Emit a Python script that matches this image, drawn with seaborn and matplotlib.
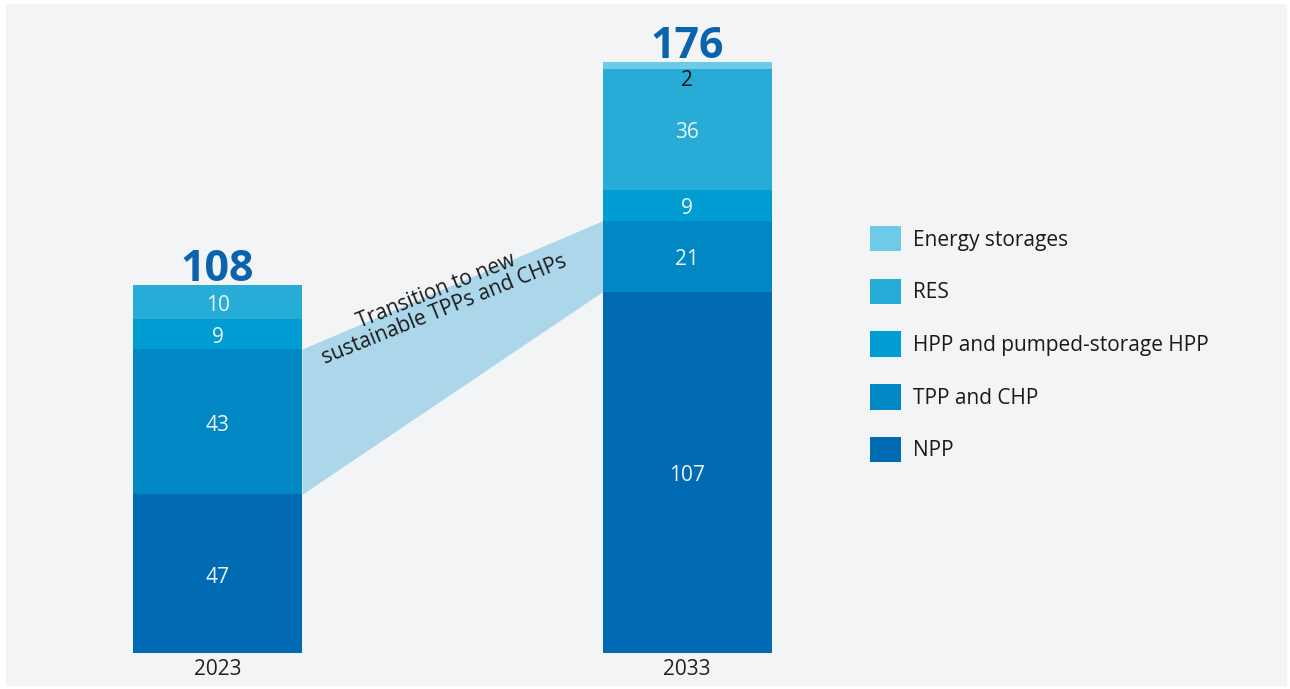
import matplotlib
matplotlib.use("Agg")
import matplotlib.pyplot as plt
from matplotlib.patches import Rectangle, Patch
import numpy as np
import pandas as pd
import seaborn as sns

# Installed capacity by source, GW
years = ["2023", "2033"]
sources = ["NPP", "TPP and CHP", "HPP and pumped-storage HPP", "RES", "Energy storages"]
npp = [47, 107]
tpp_chp = [43, 21]
hpp = [9, 9]
res = [10, 36]
storages = [0, 2]
totals = [108, 176]

colors = {
    "NPP": "#006bb2",
    "TPP and CHP": "#0087c4",
    "HPP and pumped-storage HPP": "#009dd3",
    "RES": "#26acd7",
    "Energy storages": "#6dcbe8",
}

sns.set_theme(style="white")
plt.rcParams["font.family"] = ["Open Sans", "DejaVu Sans"]

values = np.array([npp, tpp_chp, hpp, res, storages], dtype=float)
cum = np.cumsum(values, axis=0)

fig = plt.figure(figsize=(12.9, 6.89), dpi=100, facecolor="white")
# light panel behind the chart
fig.patches.append(Rectangle((6 / 1290, 3 / 689), 1281 / 1290, 682 / 689,
                             transform=fig.transFigure, facecolor="#f3f4f6",
                             edgecolor="none", zorder=-5))

ax = fig.add_axes([0, 36 / 689, 1, 641.6 / 689])
ax.set_facecolor("none")

# stacked bars: draw cumulative heights from the top layer down
for i in range(len(sources) - 1, -1, -1):
    df = pd.DataFrame({"year": years, "value": cum[i]})
    sns.barplot(data=df, x="year", y="value", order=years, color=colors[sources[i]],
                width=0.36, saturation=1, ax=ax, edgecolor="none", linewidth=0, zorder=3)

ax.set_xlim(-0.4633, 2.2843)
ax.set_ylim(0, 190)
ax.set_xlabel("")
ax.set_ylabel("")
ax.set_yticks([])
for s in ax.spines.values():
    s.set_visible(False)
ax.tick_params(axis="x", length=0, pad=4, labelsize=15, labelcolor="#222222")

# band linking the TPP and CHP segments of both years
half = 0.18
ax.fill_between([0 + half, 1 - half], [cum[0, 0], cum[0, 1]], [cum[1, 0], cum[1, 1]],
                color="#acd6ea", linewidth=0, zorder=2)
ax.text(0.475, 104.5, "Transition to new\nsustainable TPPs and CHPs", rotation=22,
        rotation_mode="anchor", ha="center", va="center", fontsize=15,
        color="#1a1a1a", linespacing=0.95, zorder=4)

# segment labels
for j in range(len(years)):
    for i, src in enumerate(sources):
        v = values[i, j]
        if v <= 0:
            continue
        if src == "Energy storages":
            ax.text(j, cum[i, j] - 5.6, f"{int(v)}", ha="center", va="center",
                    fontsize=15, color="#111111", zorder=5)
        else:
            ax.text(j, cum[i, j] - v / 2 - 1.0, f"{int(v)}", ha="center", va="center",
                    fontsize=15, color="#eef4f8", zorder=5)
    ax.text(j, cum[-1, j] - 1.8, f"{totals[j]}", ha="center", va="bottom",
            fontsize=31, fontweight="bold", color="#0b63ad", zorder=5)

handles = [Patch(facecolor=colors[s], edgecolor="none", label=s) for s in reversed(sources)]
fig.legend(handles=handles, loc="upper left", bbox_to_anchor=(870 / 1290, 1 - 226 / 689),
           frameon=False, fontsize=15, handlelength=1.5, handleheight=1.5,
           handletextpad=0.55, labelspacing=1.31, borderpad=0, borderaxespad=0,
           labelcolor="#1a1a1a")

fig.savefig("out.png", dpi=100, facecolor="white")
